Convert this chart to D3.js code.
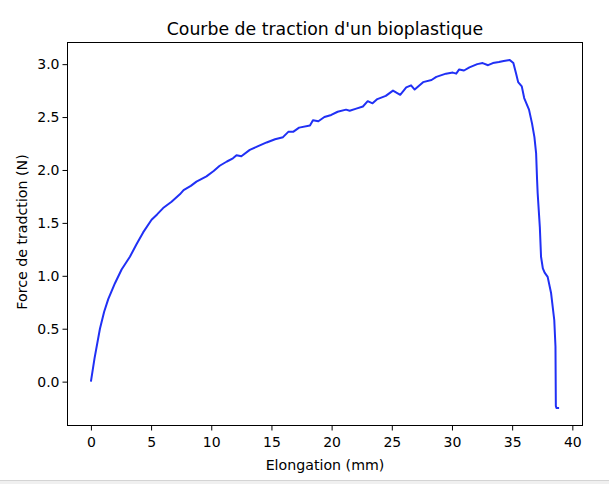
<!DOCTYPE html>
<html>
<head>
<meta charset="utf-8">
<script src="https://cdn.jsdelivr.net/npm/d3@7"></script>
<style>
  html, body { margin: 0; padding: 0; background: #fff; }
  svg { display: block; }
  text { font-family: "DejaVu Sans", sans-serif; fill: #000; }
</style>
</head>
<body>
<svg id="chart" width="609" height="484"></svg>
<script>
// Data
const elongation = [0, 0.3, 0.75, 1.1, 1.44, 2.0, 2.55, 3.24, 3.8, 4.34, 5.04, 5.5, 6.0, 6.7, 7.39, 7.7, 8.3, 8.77, 9.6, 10.2, 10.7, 11.3, 11.8, 12.1, 12.5, 13.2, 13.8, 14.6, 15.3, 15.96, 16.4, 16.8, 17.3, 18.2, 18.45, 18.9, 19.4, 19.97, 20.5, 21.2, 21.5, 22.05, 22.6, 23.0, 23.4, 23.8, 24.5, 25.1, 25.7, 26.2, 26.6, 26.9, 27.6, 28.3, 28.7, 29.5, 30.07, 30.35, 30.6, 31.0, 31.45, 32.1, 32.55, 33.0, 33.4, 33.9, 34.3, 34.8, 35.1, 35.33, 35.5, 35.8, 36.0, 36.4, 36.65, 36.85, 36.99, 37.07, 37.12, 37.3, 37.4, 37.55, 37.7, 37.95, 38.23, 38.5, 38.6, 38.63, 38.68, 38.9];
const force = [0, 0.22, 0.50, 0.66, 0.78, 0.93, 1.06, 1.18, 1.30, 1.41, 1.53, 1.58, 1.64, 1.70, 1.77, 1.81, 1.85, 1.89, 1.94, 1.99, 2.04, 2.08, 2.11, 2.14, 2.13, 2.19, 2.22, 2.26, 2.29, 2.31, 2.36, 2.36, 2.40, 2.42, 2.47, 2.46, 2.50, 2.52, 2.55, 2.57, 2.56, 2.58, 2.60, 2.65, 2.63, 2.67, 2.70, 2.75, 2.71, 2.78, 2.80, 2.76, 2.83, 2.85, 2.88, 2.91, 2.92, 2.91, 2.95, 2.94, 2.97, 3.00, 3.01, 2.99, 3.01, 3.02, 3.03, 3.04, 3.01, 2.91, 2.83, 2.79, 2.68, 2.57, 2.44, 2.31, 2.16, 1.91, 1.78, 1.46, 1.18, 1.07, 1.03, 0.99, 0.84, 0.58, 0.33, -0.23, -0.25, -0.25];
const xTicks = [0, 5, 10, 15, 20, 25, 30, 35, 40];
const yTicks = [0.0, 0.5, 1.0, 1.5, 2.0, 2.5, 3.0];
const title = "Courbe de traction d'un bioplastique";
const xLabel = "Elongation (mm)";
const yLabel = "Force de tradction (N)";

const data = elongation.map((e, i) => ({ x: e, y: force[i] }));

const svg = d3.select("#chart");
const pLeft = 67.5, pRight = 582.5, pTop = 42.5, pBottom = 425.5;

// matplotlib-style 5% margins
const xExt = d3.extent(elongation), yExt = d3.extent(force);
const xPad = (xExt[1] - xExt[0]) * 0.05, yPad = (yExt[1] - yExt[0]) * 0.05;
const x = d3.scaleLinear().domain([xExt[0] - xPad, xExt[1] + xPad]).range([pLeft, pRight]);
const y = d3.scaleLinear().domain([yExt[0] - yPad, yExt[1] + yPad]).range([pBottom, pTop]);

// Window-frame strip at the bottom of the screenshot
svg.append("rect").attr("x", 0).attr("y", 480).attr("width", 609).attr("height", 4).attr("fill", "#f0f0f0");
svg.append("line").attr("x1", 0).attr("x2", 609).attr("y1", 480.5).attr("y2", 480.5).attr("stroke", "#d4d4d4");

// Axes
const xAxis = d3.axisBottom(x).tickValues(xTicks).tickFormat(d3.format("d")).tickSizeInner(5).tickSizeOuter(0).tickPadding(7);
const yAxis = d3.axisLeft(y).tickValues(yTicks).tickFormat(d3.format(".1f")).tickSizeInner(5).tickSizeOuter(0).tickPadding(3);

const gx = svg.append("g").attr("transform", `translate(0,${pBottom})`).call(xAxis);
const gy = svg.append("g").attr("transform", `translate(${pLeft},0)`).call(yAxis);
[gx, gy].forEach(g => {
  g.select(".domain").remove();
  g.selectAll("text").style("font-family", "DejaVu Sans, sans-serif").style("font-size", "14px").attr("fill", "#000");
  g.selectAll("line").attr("stroke", "#000").attr("stroke-width", 1);
});

// Frame
svg.append("rect")
  .attr("x", pLeft).attr("y", pTop)
  .attr("width", pRight - pLeft).attr("height", pBottom - pTop)
  .attr("fill", "none").attr("stroke", "#000").attr("stroke-width", 1);

// Line
const line = d3.line().x(d => x(d.x)).y(d => y(d.y));
svg.append("path")
  .datum(data)
  .attr("d", line)
  .attr("fill", "none")
  .attr("stroke", "#2030f5")
  .attr("stroke-width", 2)
  .attr("stroke-linejoin", "round")
  .attr("stroke-linecap", "butt");

// Title and labels
svg.append("text").attr("x", (pLeft + pRight) / 2).attr("y", 35)
  .attr("text-anchor", "middle").style("font-size", "17.3px").text(title);
svg.append("text").attr("x", (pLeft + pRight) / 2).attr("y", 470)
  .attr("text-anchor", "middle").style("font-size", "14.2px").text(xLabel);
svg.append("text").attr("transform", `translate(26.5,232) rotate(-90)`)
  .attr("text-anchor", "middle").style("font-size", "14.2px").text(yLabel);
</script>
</body>
</html>
